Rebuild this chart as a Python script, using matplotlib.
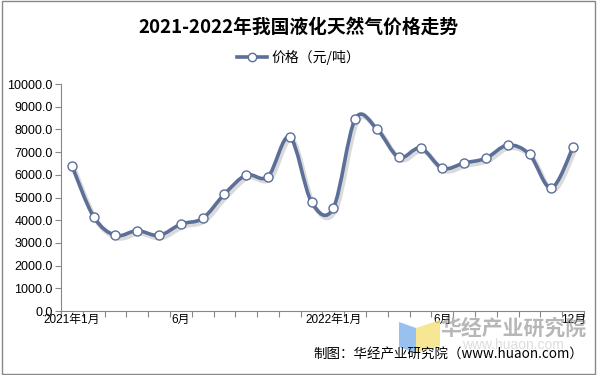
import numpy as np
import matplotlib.pyplot as plt
from matplotlib.path import Path
from matplotlib.patches import PathPatch, Polygon
from matplotlib.lines import Line2D
from matplotlib.transforms import ScaledTranslation

plt.rcParams['font.family'] = ['Liberation Sans', 'Noto Sans CJK SC', 'DejaVu Sans']

# monthly price, 2021-01 .. 2022-12 (yuan / ton)
months = list(range(24))
prices = [6400, 4150, 3330, 3540, 3330, 3830, 4080, 5150, 5990, 5920, 7670, 4790,
          4540, 8460, 8020, 6770, 7180, 6290, 6520, 6730, 7310, 6900, 5420, 7220]
label_pos = [0, 5, 12, 17, 23]
label_txt = ['2021年1月', '6月', '2022年1月', '6月', '12月']
yticks = np.arange(0, 10001, 1000)

LINE = '#5b6f98'
CJK = ['Noto Sans CJK SC', 'DejaVu Sans']
W, H = 597, 375


def fx(px):
    return px / W


def fy(py):
    return 1 - py / H


fig = plt.figure(figsize=(W / 100, H / 100), dpi=100)
ax = fig.add_axes([fx(61), fy(311), fx(584 - 61), (311 - 84) / H])

# smooth curve through the points (catmull-rom as bezier segments)
pts = np.column_stack([months, prices]).astype(float)
verts = [pts[0]]
codes = [Path.MOVETO]
n = len(pts)
for i in range(n - 1):
    p0 = pts[i - 1] if i > 0 else pts[i]
    p3 = pts[i + 2] if i + 2 < n else pts[i + 1]
    c1 = pts[i] + (pts[i + 1] - p0) / 6
    c2 = pts[i + 1] - (p3 - pts[i]) / 6
    verts += [c1, c2, pts[i + 1]]
    codes += [Path.CURVE4] * 3
path = Path(verts, codes)

shadow = PathPatch(path, facecolor='none', edgecolor='#333333', lw=3.5, alpha=0.18, zorder=1,
                   transform=ax.transData + ScaledTranslation(0.02, -0.025, fig.dpi_scale_trans))
ax.add_patch(shadow)
ax.add_patch(PathPatch(path, facecolor='none', edgecolor=LINE, lw=2.6,
                       capstyle='round', joinstyle='round', zorder=2))
ax.plot(months, prices, ls='none', marker='o', ms=6.5, mfc='white', mec=LINE, mew=1.0, zorder=3)

ax.set_xlim(-0.5, 23.5)
ax.set_ylim(0, 10000)
ax.set_yticks(yticks)
ax.set_yticklabels([f'{v:.1f}' for v in yticks], fontsize=9)
ax.set_xticks(np.arange(-0.5, 24, 1))
ax.set_xticklabels([])
ax.set_xticks(label_pos, minor=True)
ax.set_xticklabels(label_txt, minor=True, fontsize=8.5)
ax.tick_params(axis='x', which='major', length=4, color='#888888', direction='out')
ax.tick_params(axis='x', which='minor', length=0, pad=2)
ax.tick_params(axis='y', length=4, color='#888888', pad=2)
for s in ['top', 'right']:
    ax.spines[s].set_visible(False)
for s in ['left', 'bottom']:
    ax.spines[s].set_color('#888888')
    ax.spines[s].set_linewidth(0.8)

fig.text(0.5, fy(27), '2021-2022年我国液化天然气价格走势', ha='center', va='center',
         fontsize=13.5, fontweight='bold', family=CJK)
handle = Line2D([], [], color=LINE, lw=2.6, marker='o', ms=6, mfc='white', mec=LINE)
fig.legend([handle], ['价格（元/吨）'], loc='center', bbox_to_anchor=(0.5, fy(57)),
           frameon=False, prop={'family': CJK, 'size': 10}, handlelength=2.2, handletextpad=0.3)

# watermark (logo + name)
fig.patches.append(Polygon([[fx(399), fy(322)], [fx(416), fy(328)], [fx(416), fy(353)], [fx(399), fy(347)]],
                           closed=True, transform=fig.transFigure, facecolor='#7fb2ec', alpha=0.8))
fig.patches.append(Polygon([[fx(416), fy(328)], [fx(440), fy(320)], [fx(440), fy(346)], [fx(416), fy(353)]],
                           closed=True, transform=fig.transFigure, facecolor='#f5e27a', alpha=0.8))
fig.text(fx(513), fy(328), '华经产业研究院', ha='center', va='center', fontsize=15,
         fontweight='bold', color='#888888', alpha=0.6, family=CJK)
fig.text(fx(513), fy(345), 'www.huaon.com', ha='center', va='center', fontsize=10,
         color='#aaaaaa', alpha=0.4)
fig.text(fx(583), fy(355), '制图：华经产业研究院（www.huaon.com）', ha='right', va='center',
         fontsize=9.7, family=CJK)

fig.patches.append(plt.Rectangle((0.003, 0.003), 0.994, 0.994, transform=fig.transFigure,
                                 fill=False, edgecolor='#888888', lw=1))

fig.savefig('out.png', dpi=100)
